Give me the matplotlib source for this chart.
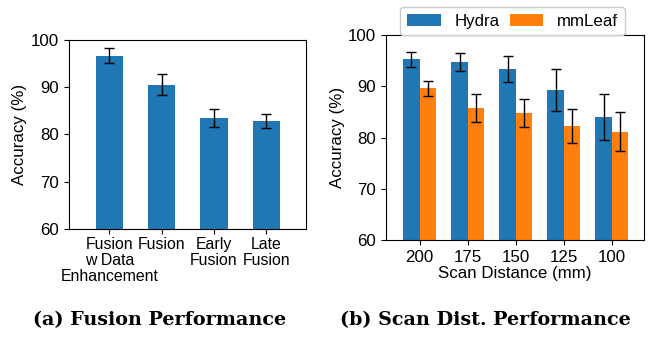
import matplotlib
matplotlib.use("Agg")
import matplotlib.pyplot as plt
import numpy as np

plt.rcParams['font.family'] = ['Liberation Sans', 'DejaVu Sans']

# (a) Fusion performance
fusion_labels = ["Fusion\nw Data\nEnhancement", "Fusion", "Early\nFusion", "Late\nFusion"]
fusion_acc = [96.7, 90.5, 83.5, 82.9]
fusion_err = [1.55, 2.2, 1.85, 1.5]

# (b) Scan distance performance
dist_labels = ["200", "175", "150", "125", "100"]
hydra_acc = [95.3, 94.7, 93.3, 89.2, 84.0]
hydra_err = [1.45, 1.8, 2.55, 4.1, 4.55]
mmleaf_acc = [89.6, 85.7, 84.8, 82.2, 81.1]
mmleaf_err = [1.47, 2.75, 2.7, 3.35, 3.8]

blue = "#1f77b4"
orange = "#ff7f0e"
fs = 12.2

fig = plt.figure(figsize=(6.51, 3.39), dpi=100)
W, H = 651, 339
ax1 = fig.add_axes([69/W, 1-229/H, (306-69)/W, (229-40)/H])
ax2 = fig.add_axes([386/W, 1-240/H, (644-386)/W, (240-35)/H])

ekw = dict(ecolor='black', elinewidth=1, capthick=1)

x1 = np.arange(len(fusion_labels))
ax1.bar(x1, fusion_acc, width=0.52, color=blue, yerr=fusion_err, capsize=3.5, error_kw=ekw)
ax1.set_xticks(x1)
ax1.set_xticklabels(fusion_labels, fontsize=11.4, linespacing=1.08)
ax1.tick_params(axis='x', pad=2.5)
ax1.set_xlim(-0.77, 3.76)
ax1.set_ylim(60, 100)
ax1.set_yticks([60, 70, 80, 90, 100])
ax1.tick_params(axis='y', labelsize=fs)
ax1.set_ylabel("Accuracy (%)", fontsize=fs, labelpad=3)

x2 = np.arange(len(dist_labels))
w = 0.34
ax2.bar(x2 - w/2, hydra_acc, width=w, color=blue, label="Hydra", yerr=hydra_err, capsize=3.5,
        error_kw=ekw)
ax2.bar(x2 + w/2, mmleaf_acc, width=w, color=orange, label="mmLeaf", yerr=mmleaf_err, capsize=3.5,
        error_kw=ekw)
ax2.set_xticks(x2)
ax2.set_xticklabels(dist_labels, fontsize=fs)
ax2.set_xlim(-0.7, 4.67)
ax2.set_ylim(60, 100)
ax2.set_yticks([60, 70, 80, 90, 100])
ax2.tick_params(axis='y', labelsize=fs)
ax2.set_ylabel("Accuracy (%)", fontsize=fs, labelpad=2)
ax2.set_xlabel("Scan Distance (mm)", fontsize=fs, labelpad=1)
ax2.legend(ncol=2, fontsize=fs, loc='lower center', bbox_to_anchor=(0.49, 0.99),
           handlelength=2.0, handleheight=0.7, handletextpad=0.8, columnspacing=0.6,
           borderaxespad=0.1, borderpad=0.4, fancybox=True, framealpha=1)

cap_font = dict(fontsize=13.8, fontweight='bold', family=['DejaVu Serif'])
fig.text(160/W, 1-320/H, "(a) Fusion Performance", ha='center', va='center', **cap_font)
fig.text(485/W, 1-320/H, "(b) Scan Dist. Performance", ha='center', va='center', **cap_font)

fig.savefig("out.png", dpi=100)
